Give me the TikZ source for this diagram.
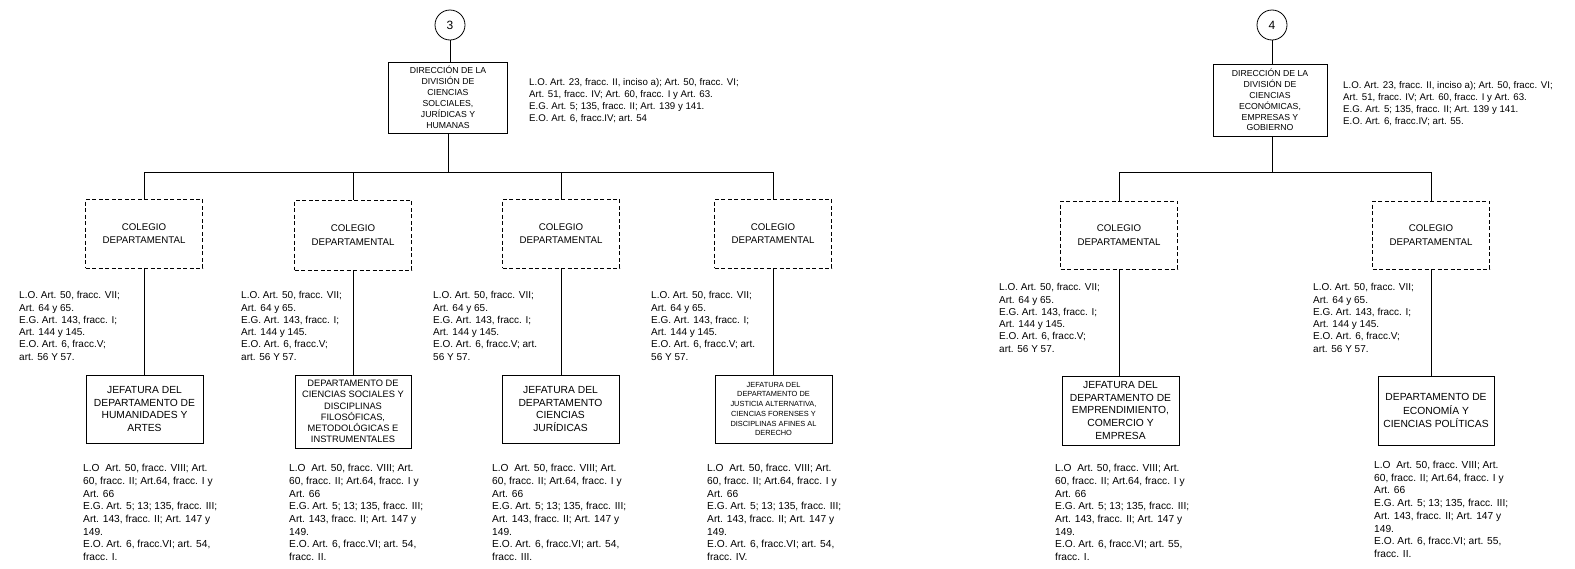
\documentclass[tikz,border=0pt]{standalone}
\usepackage{fontspec}
\setmainfont{Liberation Sans}
\begin{document}
\begin{tikzpicture}[x=1pt,y=-1pt,
  solidbox/.style={draw, line width=0.8pt, align=center, inner sep=0pt},
  dashbox/.style={draw, dash pattern=on 4pt off 2.5pt, line width=0.8pt, align=center, inner sep=0pt,
    minimum width=117pt, minimum height=69pt, font=\fontsize{9.7}{13.3}\selectfont},
  anntop/.style={anchor=north west, inner sep=0pt, align=left, font=\fontsize{9.7}{11.8}\selectfont},
  ann/.style={anchor=north west, inner sep=0pt, align=left, font=\fontsize{10}{12.3}\selectfont},
  annb/.style={anchor=north west, inner sep=0pt, align=left, font=\fontsize{10.2}{12.7}\selectfont},
  conn/.style={line width=0.8pt},
  num/.style={circle, draw, line width=0.8pt, minimum size=30pt, inner sep=0pt, font=\fontsize{12}{14}\selectfont}]
\useasboundingbox (0,0) rectangle (1575,568);

% ---------- left division ----------
\node[num] (c3) at (450,25) {3};
\node[solidbox, minimum width=119pt, minimum height=71pt, font=\fontsize{8.7}{10.9}\selectfont] (d3) at (448,97.5)
  {DIRECCIÓN DE LA\\DIVISIÓN DE\\CIENCIAS\\SOLCIALES,\\JURÍDICAS Y\\HUMANAS};
\node[anntop] (a3) at (529,78.4) {L.O. Art. 23, fracc. II, inciso a); Art. 50, fracc. VI;\\Art. 51, fracc. IV; Art. 60, fracc. I y Art. 63.\\E.G. Art. 5; 135, fracc. II; Art. 139 y 141.\\E.O. Art. 6, fracc.IV; art. 54};
\coordinate (b3) at (448,172);

\node[dashbox] (g1) at (144,233.5) {COLEGIO\\DEPARTAMENTAL};
\node[dashbox, minimum height=70pt] (g2) at (353,235) {COLEGIO\\DEPARTAMENTAL};
\node[dashbox] (g3) at (561,233.5) {COLEGIO\\DEPARTAMENTAL};
\node[dashbox] (g4) at (773,233.5) {COLEGIO\\DEPARTAMENTAL};

\node[ann] (t1) at (19,291.3) {L.O. Art. 50, fracc. VII;\\Art. 64 y 65.\\E.G. Art. 143, fracc. I;\\Art. 144 y 145.\\E.O. Art. 6, fracc.V;\\art. 56 Y 57.};
\node[ann] (t2) at (241,291.3) {L.O. Art. 50, fracc. VII;\\Art. 64 y 65.\\E.G. Art. 143, fracc. I;\\Art. 144 y 145.\\E.O. Art. 6, fracc.V;\\art. 56 Y 57.};
\node[ann] (t3) at (433,291.3) {L.O. Art. 50, fracc. VII;\\Art. 64 y 65.\\E.G. Art. 143, fracc. I;\\Art. 144 y 145.\\E.O. Art. 6, fracc.V; art.\\56 Y 57.};
\node[ann] (t4) at (651,291.3) {L.O. Art. 50, fracc. VII;\\Art. 64 y 65.\\E.G. Art. 143, fracc. I;\\Art. 144 y 145.\\E.O. Art. 6, fracc.V; art.\\56 Y 57.};

\node[solidbox, minimum width=117pt, minimum height=68pt, font=\fontsize{10.3}{12.6}\selectfont] (j1) at (144.5,409)
  {JEFATURA DEL\\DEPARTAMENTO DE\\HUMANIDADES Y\\ARTES};
\node[solidbox, minimum width=116pt, minimum height=73pt, font=\fontsize{9.3}{11.3}\selectfont] (j2) at (353,411.5)
  {DEPARTAMENTO DE\\CIENCIAS SOCIALES Y\\DISCIPLINAS\\FILOSÓFICAS,\\METODOLÓGICAS E\\INSTRUMENTALES};
\node[solidbox, minimum width=117pt, minimum height=68pt, font=\fontsize{10.3}{12.6}\selectfont] (j3) at (560.5,409)
  {JEFATURA DEL\\DEPARTAMENTO\\CIENCIAS\\JURÍDICAS};
\node[solidbox, minimum width=117pt, minimum height=68pt, font=\fontsize{7.4}{9.7}\selectfont] (j4) at (773.5,409)
  {JEFATURA DEL\\DEPARTAMENTO DE\\JUSTICIA ALTERNATIVA,\\CIENCIAS FORENSES Y\\DISCIPLINAS AFINES AL\\DERECHO};

\node[annb] (u1) at (83,464.2) {L.O\ \ Art. 50, fracc. VIII; Art.\\60, fracc. II; Art.64, fracc. I y\\Art. 66\\E.G. Art. 5; 13; 135, fracc. III;\\Art. 143, fracc. II; Art. 147 y\\149.\\E.O. Art. 6, fracc.VI; art. 54,\\fracc. I.};
\node[annb] (u2) at (289,464.2) {L.O\ \ Art. 50, fracc. VIII; Art.\\60, fracc. II; Art.64, fracc. I y\\Art. 66\\E.G. Art. 5; 13; 135, fracc. III;\\Art. 143, fracc. II; Art. 147 y\\149.\\E.O. Art. 6, fracc.VI; art. 54,\\fracc. II.};
\node[annb] (u3) at (492,464.2) {L.O\ \ Art. 50, fracc. VIII; Art.\\60, fracc. II; Art.64, fracc. I y\\Art. 66\\E.G. Art. 5; 13; 135, fracc. III;\\Art. 143, fracc. II; Art. 147 y\\149.\\E.O. Art. 6, fracc.VI; art. 54,\\fracc. III.};
\node[annb] (u4) at (707,464.2) {L.O\ \ Art. 50, fracc. VIII; Art.\\60, fracc. II; Art.64, fracc. I y\\Art. 66\\E.G. Art. 5; 13; 135, fracc. III;\\Art. 143, fracc. II; Art. 147 y\\149.\\E.O. Art. 6, fracc.VI; art. 54,\\fracc. IV.};

\draw[conn] (c3) -- (c3 |- d3.north);
\draw[conn] (d3.south) -- (b3);
\draw[conn] (g1.north) -- (g1.north |- b3) -- (g4.north |- b3) -- (g4.north);
\draw[conn] (g2.north) -- (g2.north |- b3);
\draw[conn] (g3.north) -- (g3.north |- b3);
\draw[conn] (g1.south) -- (g1.south |- j1.north);
\draw[conn] (g2.south) -- (g2.south |- j2.north);
\draw[conn] (g3.south) -- (g3.south |- j3.north);
\draw[conn] (g4.south) -- (g4.south |- j4.north);

% ---------- right division ----------
\node[num] (c4) at (1272,25) {4};
\node[solidbox, minimum width=114pt, minimum height=72pt, font=\fontsize{8.7}{10.9}\selectfont] (d4) at (1270,100)
  {DIRECCIÓN DE LA\\DIVISIÓN DE\\CIENCIAS\\ECONÓMICAS,\\EMPRESAS Y\\GOBIERNO};
\node[anntop] (a4) at (1343,81.4) {L.O. Art. 23, fracc. II, inciso a); Art. 50, fracc. VI;\\Art. 51, fracc. IV; Art. 60, fracc. I y Art. 63.\\E.G. Art. 5; 135, fracc. II; Art. 139 y 141.\\E.O. Art. 6, fracc.IV; art. 55.};
\coordinate (b4) at (1272,172);

\node[dashbox, minimum height=68pt] (g5) at (1119,235) {COLEGIO\\DEPARTAMENTAL};
\node[dashbox, minimum height=68pt] (g6) at (1431,235) {COLEGIO\\DEPARTAMENTAL};

\node[ann] (t5) at (999,283.3) {L.O. Art. 50, fracc. VII;\\Art. 64 y 65.\\E.G. Art. 143, fracc. I;\\Art. 144 y 145.\\E.O. Art. 6, fracc.V;\\art. 56 Y 57.};
\node[ann] (t6) at (1313,283.3) {L.O. Art. 50, fracc. VII;\\Art. 64 y 65.\\E.G. Art. 143, fracc. I;\\Art. 144 y 145.\\E.O. Art. 6, fracc.V;\\art. 56 Y 57.};

\node[solidbox, minimum width=117pt, minimum height=69pt, font=\fontsize{10.3}{12.7}\selectfont] (j5) at (1120.5,410.5)
  {JEFATURA DEL\\DEPARTAMENTO DE\\EMPRENDIMIENTO,\\COMERCIO Y\\EMPRESA};
\node[solidbox, minimum width=116pt, minimum height=69pt, font=\fontsize{10.3}{13.3}\selectfont] (j6) at (1436,410.5)
  {DEPARTAMENTO DE\\ECONOMÍA Y\\CIENCIAS POLÍTICAS};

\node[annb] (u5) at (1055,464.2) {L.O\ \ Art. 50, fracc. VIII; Art.\\60, fracc. II; Art.64, fracc. I y\\Art. 66\\E.G. Art. 5; 13; 135, fracc. III;\\Art. 143, fracc. II; Art. 147 y\\149.\\E.O. Art. 6, fracc.VI; art. 55,\\fracc. I.};
\node[annb] (u6) at (1374,461) {L.O\ \ Art. 50, fracc. VIII; Art.\\60, fracc. II; Art.64, fracc. I y\\Art. 66\\E.G. Art. 5; 13; 135, fracc. III;\\Art. 143, fracc. II; Art. 147 y\\149.\\E.O. Art. 6, fracc.VI; art. 55,\\fracc. II.};

\draw[conn] (c4) -- (c4 |- d4.north);
\draw[conn] (c4 |- d4.south) -- (b4);
\draw[conn] (g5.north) -- (g5.north |- b4) -- (g6.north |- b4) -- (g6.north);
\draw[conn] (g5.south) -- (g5.south |- j5.north);
\draw[conn] (g6.south) -- (g6.south |- j6.north);
\end{tikzpicture}
\end{document}
